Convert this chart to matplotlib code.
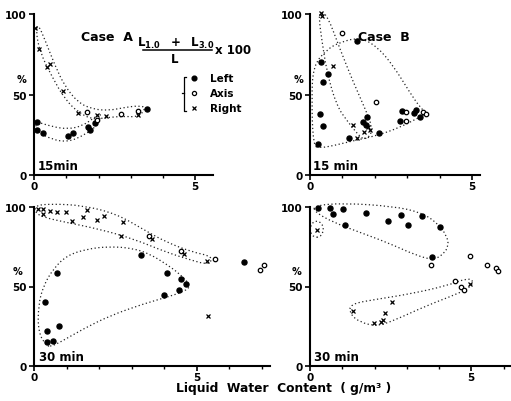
import matplotlib

matplotlib.use("Agg")
import matplotlib.pyplot as plt
from matplotlib.lines import Line2D
from matplotlib.path import Path
from matplotlib.patches import PathPatch, Ellipse

plt.rcParams["font.family"] = ["DejaVu Sans"]
plt.rcParams["font.weight"] = "bold"

# ---- Case A, 15 min -------------------------------------------------------
A15_LEFT = [(0.10, 33), (0.10, 28), (0.27, 26), (1.06, 24), (1.20, 26),
            (1.68, 30), (1.75, 28), (1.90, 32), (3.50, 41)]
A15_AXIS = [(1.65, 39), (2.69, 38), (3.24, 39.5), (1.95, 34)]
A15_RIGHT = [(0.03, 91), (0.16, 78), (0.39, 67), (0.50, 69), (0.90, 52),
             (1.37, 38.5), (1.95, 37), (2.23, 36.5), (3.24, 37)]
A15_ENV_UPPER = [(0.12, 94), (0.34, 84), (0.65, 68), (0.96, 55), (1.37, 45),
                 (1.80, 41), (2.30, 40), (2.83, 42), (3.23, 43), (3.48, 42),
                 (3.25, 36), (2.73, 36.5), (2.20, 35.5), (1.80, 34.5),
                 (1.37, 39), (0.96, 47), (0.56, 61), (0.19, 76), (0.06, 89)]
A15_ENV_LOWER = [(0.03, 33.5), (0.56, 30), (1.06, 28.5), (1.50, 30.5),
                 (1.90, 36), (2.10, 39), (1.98, 31), (1.58, 25),
                 (1.06, 20.5), (0.56, 22), (0.10, 27)]

# ---- Case B, 15 min -------------------------------------------------------
B15_LEFT = [(1.44, 83), (0.34, 70), (0.57, 63), (0.41, 58), (0.31, 38),
            (0.41, 30.6), (0.26, 19), (1.21, 23), (1.77, 36), (1.63, 32.7),
            (1.73, 31), (2.14, 26), (2.78, 33.7), (2.83, 40), (3.27, 40.3),
            (3.21, 38.3), (3.40, 36)]
B15_AXIS = [(1.00, 88), (2.03, 45.5), (2.95, 39), (2.95, 33.7), (3.48, 39),
            (3.58, 38)]
B15_RIGHT = [(0.34, 100.5), (0.38, 98.5), (0.70, 67.5), (1.34, 31),
             (1.44, 22.7), (1.80, 29.6), (1.67, 26.5), (1.86, 28)]
B15_ENV_BIG = [(0.10, 18), (0.05, 47), (0.10, 68), (0.52, 78), (0.93, 82.5),
               (1.54, 85.5), (2.06, 80), (2.57, 68), (3.09, 51), (3.40, 42),
               (3.62, 38), (3.29, 35), (2.78, 29.6), (2.06, 24.4),
               (1.34, 21.3), (0.72, 18.2), (0.31, 16.8)]
B15_ENV_NARROW = [(0.31, 101), (0.52, 100), (0.93, 78), (1.34, 57.5),
                  (1.75, 39), (1.92, 29.6), (1.86, 24), (1.65, 22),
                  (1.47, 25.5), (1.18, 32.7), (0.82, 43), (0.52, 64),
                  (0.36, 84.5), (0.28, 97)]

# ---- Case A, 30 min -------------------------------------------------------
A30_LEFT = [(3.30, 69.8), (0.70, 58.5), (4.10, 58.5), (4.51, 54.7),
            (4.66, 51.6), (4.45, 47.8), (4.00, 44.7), (0.34, 40.5),
            (0.39, 21.8), (0.78, 25), (0.41, 14.9), (0.59, 15.5), (6.44, 65.6)]
A30_AXIS = [(3.54, 81.6), (4.53, 72.5), (5.55, 67.3), (6.95, 60.6),
            (7.06, 63.7)]
A30_RIGHT = [(0.13, 99), (0.29, 99), (0.27, 95.6), (0.49, 97.7), (0.72, 96.6),
             (0.97, 96.6), (1.16, 91.4), (1.49, 94), (1.62, 98.3),
             (1.95, 91.8), (2.15, 94.5), (2.74, 90.3), (2.66, 82),
             (3.64, 80), (4.60, 70.4), (5.30, 66.2), (5.35, 31.6)]
A30_ENV_UPPER = [(0.03, 100.8), (0.49, 102), (1.51, 101), (2.54, 95.6),
                 (3.35, 86), (4.07, 77.8), (4.89, 71.5), (5.40, 69.4),
                 (5.47, 66), (5.30, 64), (4.89, 66.2), (4.07, 71.5),
                 (3.05, 80), (2.02, 86), (1.00, 90.3), (0.29, 93.5),
                 (0.03, 96.6)]
A30_ENV_LOWER = [(0.39, 12.5), (0.13, 21), (0.13, 38), (0.29, 50.5),
                 (0.59, 61), (1.00, 69.4), (1.62, 73.6), (2.33, 75.2),
                 (3.05, 74), (3.56, 70.4), (4.07, 64), (4.48, 57.9),
                 (4.82, 50.5), (4.63, 47), (4.07, 43.2), (3.35, 39),
                 (2.33, 31.6), (1.51, 23.3), (0.80, 14.9), (0.54, 12.5)]

# ---- Case B, 30 min -------------------------------------------------------
B30_LEFT = [(0.24, 99.4), (0.62, 99.4), (0.70, 95.6), (1.03, 98.7),
            (1.09, 88.9), (1.74, 96.2), (2.43, 91.4), (2.82, 95.2),
            (3.05, 88.7), (3.47, 94.5), (4.04, 87.2), (3.78, 68.7)]
B30_AXIS = [(3.75, 63.5), (4.95, 69.4), (5.49, 63.7), (5.78, 61.8),
            (5.82, 59.9), (4.48, 53.2), (4.69, 49.9), (4.78, 48)]
B30_RIGHT = [(0.21, 85.7), (4.95, 51.6), (1.33, 34.4), (2.33, 33.1),
             (2.54, 40), (1.99, 26.8), (2.20, 27.4), (2.25, 29)]
B30_ENV_UPPER = [(0.10, 100.8), (1.03, 102.5), (2.59, 100.4), (3.42, 96.7),
                 (3.93, 90.4), (4.24, 82), (4.30, 75.7), (4.14, 70.4),
                 (3.83, 66.7), (3.31, 69.4), (2.38, 77.8), (1.55, 84),
                 (0.72, 90.4), (0.16, 96.7)]
B30_ENV_LOWER = [(1.24, 39), (2.07, 42), (3.10, 45.3), (4.24, 50.5),
                 (4.87, 55.2), (5.07, 53.6), (4.97, 49.5), (4.56, 45.3),
                 (3.62, 38), (2.59, 28.5), (2.07, 25), (1.55, 27.5),
                 (1.24, 32.7)]
B30_RING = (0.21, 86, 0.40, 10)  # centre x, centre y, width, height

W, H = 511, 402
fig = plt.figure(figsize=(W / 100, H / 100), dpi=100)


def px_axes(left, top, right, bottom):
    return fig.add_axes([left / W, 1 - bottom / H, (right - left) / W,
                         (bottom - top) / H])


def envelope(ax, pts):
    # closed smooth outline: quadratic curves through edge midpoints
    n = len(pts)
    mid = lambda a, b: ((a[0] + b[0]) / 2, (a[1] + b[1]) / 2)
    verts = [mid(pts[-1], pts[0])]
    codes = [Path.MOVETO]
    for i in range(n):
        verts += [pts[i], mid(pts[i], pts[(i + 1) % n])]
        codes += [Path.CURVE3, Path.CURVE3]
    ax.add_patch(PathPatch(Path(verts, codes), fill=False, edgecolor="#222222",
                           linewidth=0.9, linestyle=(0, (1, 2)),
                           clip_on=False))


def scatter(ax, left, axis, right):
    ax.plot(*zip(*left), "o", ms=3.6, color="black", clip_on=False)
    ax.plot(*zip(*axis), "o", ms=3.2, mfc="white", mec="black", mew=0.9,
            clip_on=False)
    ax.plot(*zip(*right), "x", ms=2.4, mew=0.9, color="black", clip_on=False)


def style(ax, xmax, label):
    ax.set_xlim(0, xmax)
    ax.set_ylim(0, 100)
    for side in ("top", "right"):
        ax.spines[side].set_visible(False)
    for side in ("left", "bottom"):
        ax.spines[side].set_linewidth(1.5)
    ax.set_yticks([0, 50, 100])
    ax.set_yticklabels(["0", "50", "100"])
    ax.set_xticks([0, 5])
    ax.set_xticklabels(["0", "5"])
    ax.set_xticks([t for t in range(1, int(xmax) + 1) if t != 5], minor=True)
    ax.tick_params(axis="both", which="major", length=3.5, width=1.2,
                   labelsize=7.5, pad=1.5)
    ax.tick_params(axis="x", which="major", pad=1)
    ax.tick_params(axis="x", which="minor", length=2.5, width=1.0)
    for t in ax.get_xticklabels() + ax.get_yticklabels():
        t.set_fontweight("bold")
    ax.text(0.02, 0.02, label, transform=ax.transAxes, fontsize=8.5,
            fontweight="bold", ha="left", va="bottom")
    ax.text(-0.07, 0.565, "%", transform=ax.transAxes, fontsize=7,
            fontweight="bold", ha="center", va="bottom")
    ax.patch.set_alpha(0)


axA15 = px_axes(34, 15, 213, 176)
style(axA15, 5.55, "15min")
envelope(axA15, A15_ENV_UPPER)
envelope(axA15, A15_ENV_LOWER)
scatter(axA15, A15_LEFT, A15_AXIS, A15_RIGHT)
axA15.text(0.26, 0.86, "Case  A", transform=axA15.transAxes, fontsize=9,
           fontweight="bold", ha="left", va="center")

axB15 = px_axes(310, 15, 480, 176)
style(axB15, 5.25, "15 min")
envelope(axB15, B15_ENV_BIG)
envelope(axB15, B15_ENV_NARROW)
scatter(axB15, B15_LEFT, B15_AXIS, B15_RIGHT)
axB15.text(0.28, 0.86, "Case  B", transform=axB15.transAxes, fontsize=9,
           fontweight="bold", ha="left", va="center")

axA30 = px_axes(34, 208, 270, 367)
style(axA30, 7.25, "30 min")
envelope(axA30, A30_ENV_UPPER)
envelope(axA30, A30_ENV_LOWER)
scatter(axA30, A30_LEFT, A30_AXIS, A30_RIGHT)

axB30 = px_axes(310, 208, 510, 367)
style(axB30, 6.2, "30 min")
envelope(axB30, B30_ENV_UPPER)
envelope(axB30, B30_ENV_LOWER)
cx, cy, ew, eh = B30_RING
axB30.add_patch(Ellipse((cx, cy), ew, eh, fill=False, edgecolor="#222222",
                        linewidth=0.9, linestyle=(0, (1, 2)), clip_on=False))
scatter(axB30, B30_LEFT, B30_AXIS, B30_RIGHT)

# ---- formula and legend (figure pixel positions) -------------------------
def fx(x):
    return x / W


def fy(y):
    return 1 - y / H


fig.text(fx(176), fy(43), r"$\mathbf{L_{1.0}\ \ +\ \ L_{3.0}}$", fontsize=8.5,
         ha="center", va="center")
fig.add_artist(Line2D([fx(143), fx(212)], [fy(51), fy(51)], color="black",
                      linewidth=1.1))
fig.text(fx(175), fy(59.5), "L", fontsize=8.5, fontweight="bold",
         ha="center", va="center")
fig.text(fx(215), fy(50), "x 100", fontsize=8.5, fontweight="bold",
         ha="left", va="center")

fig.add_artist(Line2D([fx(186), fx(184), fx(184), fx(186)],
                      [fy(78), fy(78), fy(112), fy(112)], color="black",
                      linewidth=0.9))
fig.add_artist(Line2D([fx(182), fx(184)], [fy(94), fy(94)], color="black",
                      linewidth=0.9))
legend_rows = [("Left", dict(marker="o", ms=3.4, color="black", ls="")),
               ("Axis", dict(marker="o", ms=3.0, mfc="white", mec="black",
                             mew=0.9, ls="")),
               ("Right", dict(marker="x", ms=2.4, mew=0.9, color="black",
                              ls=""))]
for i, (name, kw) in enumerate(legend_rows):
    yy = 79 + 15 * i
    fig.add_artist(Line2D([fx(194)], [fy(yy)], **kw))
    fig.text(fx(210), fy(yy), name, fontsize=7.5, fontweight="bold",
             ha="left", va="center")

fig.text(fx(284), fy(389), "Liquid  Water  Content  ( g/m³ )",
         fontsize=8.8, fontweight="bold", ha="center", va="center")

fig.savefig("out.png", dpi=100)
